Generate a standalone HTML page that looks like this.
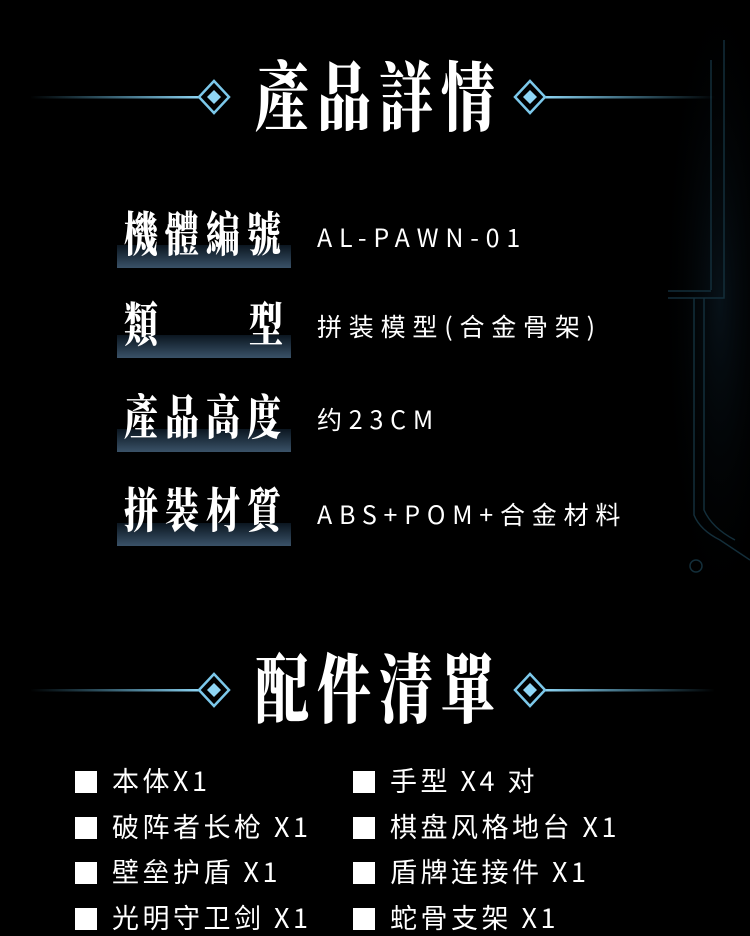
<!DOCTYPE html>
<html><head><meta charset="utf-8"><style>
html,body{margin:0;padding:0;background:#000;}
body{width:750px;height:934px;position:relative;overflow:hidden;font-family:"Noto Sans CJK SC","Liberation Sans",sans-serif;color:#fff;}
.a{position:absolute;white-space:nowrap;}
.title{font-family:"Noto Serif CJK SC",serif;font-weight:900;font-size:54px;line-height:1;letter-spacing:8px;transform:scaleY(1.4);transform-origin:0 0;}
.lbl{font-family:"Noto Serif CJK SC",serif;font-weight:900;font-size:34px;line-height:1;transform:scaleY(1.4);transform-origin:0 0;}
.bar{position:absolute;left:117px;width:174px;height:23px;background:linear-gradient(#0b1620,#3a5268);}
.val{font-size:25px;letter-spacing:6.8px;line-height:1;}
.li{font-size:27px;line-height:1;letter-spacing:3.5px;}
.sq{position:absolute;width:22px;height:22px;background:#fff;}
</style></head><body>
<svg class="a" style="left:0;top:0" width="750" height="934">
<defs>
<linearGradient id="gl" x1="0" x2="1"><stop offset="0" stop-color="#5ab8e0" stop-opacity="0"/><stop offset="1" stop-color="#8fd6f5"/></linearGradient>
<linearGradient id="gr" x1="0" x2="1"><stop offset="0" stop-color="#8fd6f5"/><stop offset="1" stop-color="#5ab8e0" stop-opacity="0"/></linearGradient>
<radialGradient id="glow"><stop offset="0" stop-color="#0a1822" stop-opacity=".7"/><stop offset="1" stop-color="#000" stop-opacity="0"/></radialGradient>
</defs>
<ellipse cx="720" cy="300" rx="60" ry="330" fill="url(#glow)"/>
<g stroke="#132e3a" stroke-width="1.5" fill="none">
<path d="M711 60 V290 M724 40 V298 H668 M668 291 H711"/>
<path d="M694 298 V515 Q700 530 720 540 L750 560 M704 298 V510 Q712 528 735 540"/>
<circle cx="696" cy="566" r="6"/>
</g>
<g>
<rect x="30" y="96" width="170" height="2.5" fill="url(#gl)"/>
<rect x="545" y="96" width="170" height="2.5" fill="url(#gr)"/>
<path d="M214 81 L229 97 L214 113 L199 97Z" fill="none" stroke="#7cc8ea" stroke-width="2.5"/>
<path d="M214 90 L221 97 L214 104 L207 97Z" fill="#8fd6f5"/>
<path d="M530 81 L545 97 L530 113 L515 97Z" fill="none" stroke="#7cc8ea" stroke-width="2.5"/>
<path d="M530 90 L537 97 L530 104 L523 97Z" fill="#8fd6f5"/>
<rect x="30" y="689" width="170" height="2.5" fill="url(#gl)"/>
<rect x="545" y="689" width="170" height="2.5" fill="url(#gr)"/>
<path d="M214 674 L229 690 L214 706 L199 690Z" fill="none" stroke="#7cc8ea" stroke-width="2.5"/>
<path d="M214 683 L221 690 L214 697 L207 690Z" fill="#8fd6f5"/>
<path d="M530 674 L545 690 L530 706 L515 690Z" fill="none" stroke="#7cc8ea" stroke-width="2.5"/>
<path d="M530 683 L537 690 L530 697 L523 690Z" fill="#8fd6f5"/>
</g>
</svg>
<div class="a title" style="left:255px;top:56px;">產品詳情</div>
<div class="a title" style="left:255px;top:648px;">配件清單</div>

<div class="bar" style="top:245px"></div>
<div class="bar" style="top:335px"></div>
<div class="bar" style="top:429px"></div>
<div class="bar" style="top:523px"></div>
<div class="a lbl" style="left:124px;top:208px;letter-spacing:7px;">機體編號</div>
<div class="a lbl" style="left:124px;top:298px;">類</div>
<div class="a lbl" style="left:249px;top:298px;">型</div>
<div class="a lbl" style="left:124px;top:391px;letter-spacing:7px;">產品高度</div>
<div class="a lbl" style="left:124px;top:484px;letter-spacing:7px;">拼裝材質</div>

<div class="a val" style="left:317px;top:225px;">AL-PAWN-01</div>
<div class="a val" style="left:317px;top:314px;">拼装模型(合金骨架)</div>
<div class="a val" style="left:317px;top:407px;">约23CM</div>
<div class="a val" style="left:317px;top:502px;">ABS+POM+合金材料</div>

<div class="sq" style="left:75px;top:771px"></div>
<div class="sq" style="left:75px;top:817px"></div>
<div class="sq" style="left:75px;top:862px"></div>
<div class="sq" style="left:75px;top:908px"></div>
<div class="sq" style="left:353px;top:771px"></div>
<div class="sq" style="left:353px;top:817px"></div>
<div class="sq" style="left:353px;top:862px"></div>
<div class="sq" style="left:353px;top:908px"></div>
<div class="a li" style="left:112px;top:766px;">本体X1</div>
<div class="a li" style="left:112px;top:812px;">破阵者长枪 X1</div>
<div class="a li" style="left:112px;top:857px;">壁垒护盾 X1</div>
<div class="a li" style="left:112px;top:903px;">光明守卫剑 X1</div>
<div class="a li" style="left:390px;top:766px;">手型 X4 对</div>
<div class="a li" style="left:390px;top:812px;">棋盘风格地台 X1</div>
<div class="a li" style="left:390px;top:857px;">盾牌连接件 X1</div>
<div class="a li" style="left:390px;top:903px;">蛇骨支架 X1</div>
</body></html>
